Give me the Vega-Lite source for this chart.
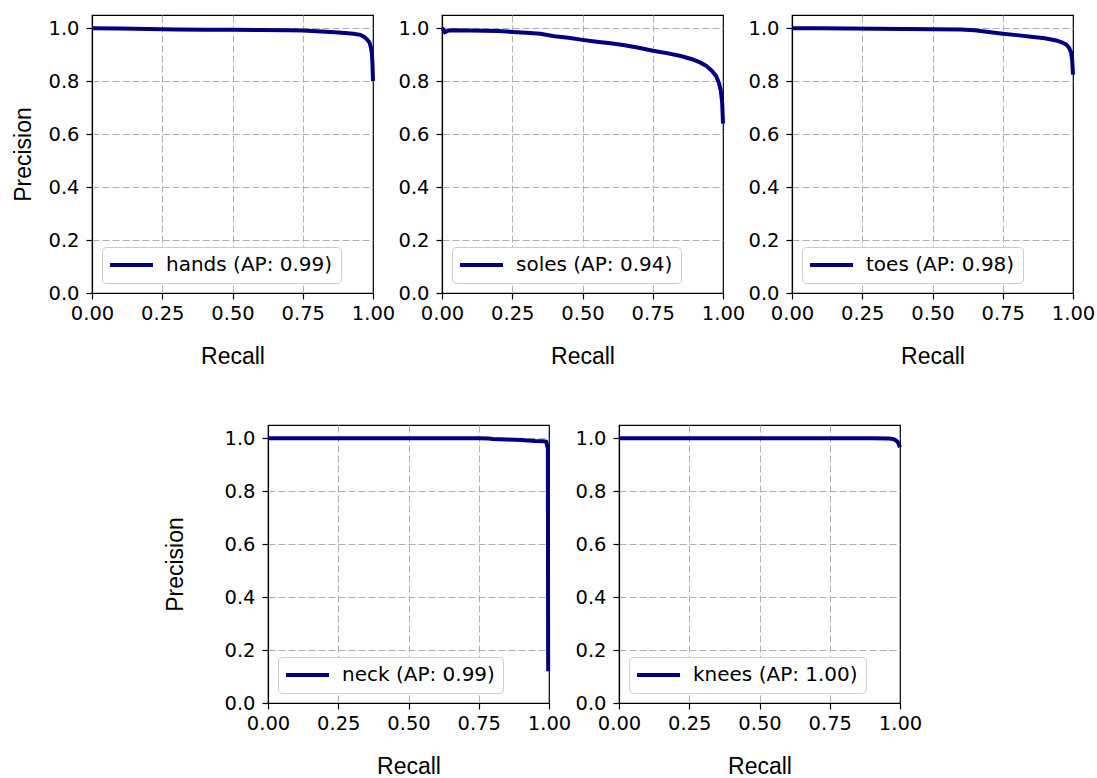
{
  "$schema": "https://vega.github.io/schema/vega-lite/v6.json",
  "background": "white",
  "padding": {"left": 12, "top": 14, "right": 5, "bottom": 5},
  "datasets": {
    "pr": [
      {"part": "hands", "label": "hands (AP: 0.99)", "recall": 0.0, "precision": 1.0},
      {"part": "hands", "label": "hands (AP: 0.99)", "recall": 0.1, "precision": 0.999},
      {"part": "hands", "label": "hands (AP: 0.99)", "recall": 0.2, "precision": 0.997},
      {"part": "hands", "label": "hands (AP: 0.99)", "recall": 0.3, "precision": 0.995},
      {"part": "hands", "label": "hands (AP: 0.99)", "recall": 0.4, "precision": 0.994},
      {"part": "hands", "label": "hands (AP: 0.99)", "recall": 0.5, "precision": 0.994},
      {"part": "hands", "label": "hands (AP: 0.99)", "recall": 0.6, "precision": 0.993},
      {"part": "hands", "label": "hands (AP: 0.99)", "recall": 0.7, "precision": 0.992},
      {"part": "hands", "label": "hands (AP: 0.99)", "recall": 0.75, "precision": 0.991},
      {"part": "hands", "label": "hands (AP: 0.99)", "recall": 0.8, "precision": 0.989},
      {"part": "hands", "label": "hands (AP: 0.99)", "recall": 0.85, "precision": 0.986},
      {"part": "hands", "label": "hands (AP: 0.99)", "recall": 0.9, "precision": 0.982},
      {"part": "hands", "label": "hands (AP: 0.99)", "recall": 0.93, "precision": 0.979},
      {"part": "hands", "label": "hands (AP: 0.99)", "recall": 0.955, "precision": 0.975},
      {"part": "hands", "label": "hands (AP: 0.99)", "recall": 0.97, "precision": 0.966},
      {"part": "hands", "label": "hands (AP: 0.99)", "recall": 0.98, "precision": 0.956},
      {"part": "hands", "label": "hands (AP: 0.99)", "recall": 0.988, "precision": 0.945},
      {"part": "hands", "label": "hands (AP: 0.99)", "recall": 0.993, "precision": 0.925},
      {"part": "hands", "label": "hands (AP: 0.99)", "recall": 0.996, "precision": 0.905},
      {"part": "hands", "label": "hands (AP: 0.99)", "recall": 0.998, "precision": 0.87},
      {"part": "hands", "label": "hands (AP: 0.99)", "recall": 1.0, "precision": 0.8},

      {"part": "soles", "label": "soles (AP: 0.94)", "recall": 0.0, "precision": 1.0},
      {"part": "soles", "label": "soles (AP: 0.94)", "recall": 0.005, "precision": 0.995},
      {"part": "soles", "label": "soles (AP: 0.94)", "recall": 0.01, "precision": 0.985},
      {"part": "soles", "label": "soles (AP: 0.94)", "recall": 0.02, "precision": 0.99},
      {"part": "soles", "label": "soles (AP: 0.94)", "recall": 0.03, "precision": 0.992},
      {"part": "soles", "label": "soles (AP: 0.94)", "recall": 0.1, "precision": 0.991},
      {"part": "soles", "label": "soles (AP: 0.94)", "recall": 0.2, "precision": 0.99},
      {"part": "soles", "label": "soles (AP: 0.94)", "recall": 0.25, "precision": 0.986},
      {"part": "soles", "label": "soles (AP: 0.94)", "recall": 0.3, "precision": 0.983},
      {"part": "soles", "label": "soles (AP: 0.94)", "recall": 0.35, "precision": 0.979},
      {"part": "soles", "label": "soles (AP: 0.94)", "recall": 0.4, "precision": 0.97},
      {"part": "soles", "label": "soles (AP: 0.94)", "recall": 0.45, "precision": 0.964},
      {"part": "soles", "label": "soles (AP: 0.94)", "recall": 0.5, "precision": 0.956},
      {"part": "soles", "label": "soles (AP: 0.94)", "recall": 0.55, "precision": 0.949},
      {"part": "soles", "label": "soles (AP: 0.94)", "recall": 0.6, "precision": 0.943},
      {"part": "soles", "label": "soles (AP: 0.94)", "recall": 0.65, "precision": 0.936},
      {"part": "soles", "label": "soles (AP: 0.94)", "recall": 0.7, "precision": 0.926},
      {"part": "soles", "label": "soles (AP: 0.94)", "recall": 0.75, "precision": 0.915},
      {"part": "soles", "label": "soles (AP: 0.94)", "recall": 0.8, "precision": 0.906},
      {"part": "soles", "label": "soles (AP: 0.94)", "recall": 0.85, "precision": 0.895},
      {"part": "soles", "label": "soles (AP: 0.94)", "recall": 0.89, "precision": 0.883},
      {"part": "soles", "label": "soles (AP: 0.94)", "recall": 0.92, "precision": 0.87},
      {"part": "soles", "label": "soles (AP: 0.94)", "recall": 0.94, "precision": 0.858},
      {"part": "soles", "label": "soles (AP: 0.94)", "recall": 0.96, "precision": 0.84},
      {"part": "soles", "label": "soles (AP: 0.94)", "recall": 0.975, "precision": 0.82},
      {"part": "soles", "label": "soles (AP: 0.94)", "recall": 0.985, "precision": 0.795},
      {"part": "soles", "label": "soles (AP: 0.94)", "recall": 0.992, "precision": 0.765},
      {"part": "soles", "label": "soles (AP: 0.94)", "recall": 0.997, "precision": 0.72},
      {"part": "soles", "label": "soles (AP: 0.94)", "recall": 1.0, "precision": 0.64},

      {"part": "toes", "label": "toes (AP: 0.98)", "recall": 0.0, "precision": 1.0},
      {"part": "toes", "label": "toes (AP: 0.98)", "recall": 0.1, "precision": 1.0},
      {"part": "toes", "label": "toes (AP: 0.98)", "recall": 0.2, "precision": 0.999},
      {"part": "toes", "label": "toes (AP: 0.98)", "recall": 0.3, "precision": 0.998},
      {"part": "toes", "label": "toes (AP: 0.98)", "recall": 0.4, "precision": 0.997},
      {"part": "toes", "label": "toes (AP: 0.98)", "recall": 0.5, "precision": 0.996},
      {"part": "toes", "label": "toes (AP: 0.98)", "recall": 0.6, "precision": 0.995},
      {"part": "toes", "label": "toes (AP: 0.98)", "recall": 0.65, "precision": 0.992},
      {"part": "toes", "label": "toes (AP: 0.98)", "recall": 0.7, "precision": 0.986},
      {"part": "toes", "label": "toes (AP: 0.98)", "recall": 0.75, "precision": 0.979},
      {"part": "toes", "label": "toes (AP: 0.98)", "recall": 0.8, "precision": 0.974},
      {"part": "toes", "label": "toes (AP: 0.98)", "recall": 0.85, "precision": 0.968},
      {"part": "toes", "label": "toes (AP: 0.98)", "recall": 0.9, "precision": 0.962},
      {"part": "toes", "label": "toes (AP: 0.98)", "recall": 0.94, "precision": 0.954},
      {"part": "toes", "label": "toes (AP: 0.98)", "recall": 0.96, "precision": 0.947},
      {"part": "toes", "label": "toes (AP: 0.98)", "recall": 0.975, "precision": 0.939},
      {"part": "toes", "label": "toes (AP: 0.98)", "recall": 0.985, "precision": 0.928},
      {"part": "toes", "label": "toes (AP: 0.98)", "recall": 0.993, "precision": 0.91},
      {"part": "toes", "label": "toes (AP: 0.98)", "recall": 0.997, "precision": 0.88},
      {"part": "toes", "label": "toes (AP: 0.98)", "recall": 1.0, "precision": 0.825},

      {"part": "neck", "label": "neck (AP: 0.99)", "recall": 0.0, "precision": 1.0},
      {"part": "neck", "label": "neck (AP: 0.99)", "recall": 0.5, "precision": 1.0},
      {"part": "neck", "label": "neck (AP: 0.99)", "recall": 0.75, "precision": 1.0},
      {"part": "neck", "label": "neck (AP: 0.99)", "recall": 0.785, "precision": 0.999},
      {"part": "neck", "label": "neck (AP: 0.99)", "recall": 0.8, "precision": 0.997},
      {"part": "neck", "label": "neck (AP: 0.99)", "recall": 0.85, "precision": 0.995},
      {"part": "neck", "label": "neck (AP: 0.99)", "recall": 0.9, "precision": 0.993},
      {"part": "neck", "label": "neck (AP: 0.99)", "recall": 0.95, "precision": 0.99},
      {"part": "neck", "label": "neck (AP: 0.99)", "recall": 0.98, "precision": 0.989},
      {"part": "neck", "label": "neck (AP: 0.99)", "recall": 0.99, "precision": 0.987},
      {"part": "neck", "label": "neck (AP: 0.99)", "recall": 0.993, "precision": 0.975},
      {"part": "neck", "label": "neck (AP: 0.99)", "recall": 0.996, "precision": 0.96},
      {"part": "neck", "label": "neck (AP: 0.99)", "recall": 0.9965, "precision": 0.5},
      {"part": "neck", "label": "neck (AP: 0.99)", "recall": 0.997, "precision": 0.12},

      {"part": "knees", "label": "knees (AP: 1.00)", "recall": 0.0, "precision": 1.0},
      {"part": "knees", "label": "knees (AP: 1.00)", "recall": 0.5, "precision": 1.0},
      {"part": "knees", "label": "knees (AP: 1.00)", "recall": 0.9, "precision": 1.0},
      {"part": "knees", "label": "knees (AP: 1.00)", "recall": 0.96, "precision": 0.999},
      {"part": "knees", "label": "knees (AP: 1.00)", "recall": 0.975, "precision": 0.997},
      {"part": "knees", "label": "knees (AP: 1.00)", "recall": 0.985, "precision": 0.992},
      {"part": "knees", "label": "knees (AP: 1.00)", "recall": 0.993, "precision": 0.984},
      {"part": "knees", "label": "knees (AP: 1.00)", "recall": 1.0, "precision": 0.966}
    ]
  },
  "config": {
    "view": {"stroke": "black", "strokeWidth": 1.2},
    "axis": {
      "labelFont": "DejaVu Sans", "labelFontSize": 19.5, "labelColor": "black",
      "titleFont": "Liberation Sans", "titleFontSize": 23, "titleFontWeight": "normal", "titleColor": "black",
      "domainColor": "black", "domainWidth": 1.2, "tickColor": "black", "tickWidth": 1.2, "tickSize": 6,
      "grid": true, "gridColor": "#b0b0b0", "gridDash": [7, 3], "gridWidth": 1,
      "labelFlush": false, "labelOverlap": false
    },
    "axisX": {"labelPadding": 5, "titlePadding": 23},
    "axisY": {"labelPadding": 7, "titlePadding": 12},
    "legend": {
      "orient": "bottom-left", "offset": 10, "title": null,
      "labelFont": "DejaVu Sans", "labelFontSize": 20, "labelColor": "black", "labelLimit": 400,
      "symbolType": "stroke", "symbolStrokeWidth": 4, "symbolSize": 2025, "symbolOffset": -4, "labelOffset": 11,
      "clipHeight": 20,
      "padding": 8, "strokeColor": "#cccccc", "fillColor": "white", "cornerRadius": 4
    },
    "line": {"strokeWidth": 4}
  },
  "vconcat": [
    {
      "hconcat": [
        {
          "width": 281, "height": 278,
          "data": {"name": "pr"},
          "transform": [{"filter": "datum.part === 'hands'"}],
          "mark": {"type": "line"},
          "encoding": {
            "x": {"field": "recall", "type": "quantitative", "scale": {"domain": [0, 1], "nice": false, "zero": false}, "axis": {"values": [0, 0.25, 0.5, 0.75, 1], "format": ".2f", "title": "Recall", "gridOpacity": {"condition": {"test": "datum.value <= 0 || datum.value >= 1", "value": 0}, "value": 1}}},
            "y": {"field": "precision", "type": "quantitative", "scale": {"domain": [0, 1.05], "nice": false}, "axis": {"values": [0, 0.2, 0.4, 0.6, 0.8, 1], "format": ".1f", "title": "Precision"}},
            "color": {"field": "label", "type": "nominal", "scale": {"range": ["#000080"]}, "legend": {"orient": "bottom-left", "title": null}}
          }
        },
        {
          "width": 281, "height": 278,
          "data": {"name": "pr"},
          "transform": [{"filter": "datum.part === 'soles'"}],
          "mark": {"type": "line"},
          "encoding": {
            "x": {"field": "recall", "type": "quantitative", "scale": {"domain": [0, 1], "nice": false, "zero": false}, "axis": {"values": [0, 0.25, 0.5, 0.75, 1], "format": ".2f", "title": "Recall", "gridOpacity": {"condition": {"test": "datum.value <= 0 || datum.value >= 1", "value": 0}, "value": 1}}},
            "y": {"field": "precision", "type": "quantitative", "scale": {"domain": [0, 1.05], "nice": false}, "axis": {"values": [0, 0.2, 0.4, 0.6, 0.8, 1], "format": ".1f", "title": null}},
            "color": {"field": "label", "type": "nominal", "scale": {"range": ["#000080"]}, "legend": {"orient": "bottom-left", "title": null}}
          }
        },
        {
          "width": 281, "height": 278,
          "data": {"name": "pr"},
          "transform": [{"filter": "datum.part === 'toes'"}],
          "mark": {"type": "line"},
          "encoding": {
            "x": {"field": "recall", "type": "quantitative", "scale": {"domain": [0, 1], "nice": false, "zero": false}, "axis": {"values": [0, 0.25, 0.5, 0.75, 1], "format": ".2f", "title": "Recall", "gridOpacity": {"condition": {"test": "datum.value <= 0 || datum.value >= 1", "value": 0}, "value": 1}}},
            "y": {"field": "precision", "type": "quantitative", "scale": {"domain": [0, 1.05], "nice": false}, "axis": {"values": [0, 0.2, 0.4, 0.6, 0.8, 1], "format": ".1f", "title": null}},
            "color": {"field": "label", "type": "nominal", "scale": {"range": ["#000080"]}, "legend": {"orient": "bottom-left", "title": null}}
          }
        }
      ],
      "spacing": 69,
      "bounds": "flush",
      "resolve": {"scale": {"color": "independent"}, "legend": {"color": "independent"}}
    },
    {
      "hconcat": [
        {
          "width": 106, "height": 278,
          "data": {"values": []},
          "mark": {"type": "point"},
          "view": {"stroke": null}
        },
        {
          "width": 281, "height": 278,
          "data": {"name": "pr"},
          "transform": [{"filter": "datum.part === 'neck'"}],
          "mark": {"type": "line"},
          "encoding": {
            "x": {"field": "recall", "type": "quantitative", "scale": {"domain": [0, 1], "nice": false, "zero": false}, "axis": {"values": [0, 0.25, 0.5, 0.75, 1], "format": ".2f", "title": "Recall", "gridOpacity": {"condition": {"test": "datum.value <= 0 || datum.value >= 1", "value": 0}, "value": 1}}},
            "y": {"field": "precision", "type": "quantitative", "scale": {"domain": [0, 1.05], "nice": false}, "axis": {"values": [0, 0.2, 0.4, 0.6, 0.8, 1], "format": ".1f", "title": "Precision", "titlePadding": 36}},
            "color": {"field": "label", "type": "nominal", "scale": {"range": ["#000080"]}, "legend": {"orient": "bottom-left", "title": null}}
          }
        },
        {
          "width": 281, "height": 278,
          "data": {"name": "pr"},
          "transform": [{"filter": "datum.part === 'knees'"}],
          "mark": {"type": "line"},
          "encoding": {
            "x": {"field": "recall", "type": "quantitative", "scale": {"domain": [0, 1], "nice": false, "zero": false}, "axis": {"values": [0, 0.25, 0.5, 0.75, 1], "format": ".2f", "title": "Recall", "gridOpacity": {"condition": {"test": "datum.value <= 0 || datum.value >= 1", "value": 0}, "value": 1}}},
            "y": {"field": "precision", "type": "quantitative", "scale": {"domain": [0, 1.05], "nice": false}, "axis": {"values": [0, 0.2, 0.4, 0.6, 0.8, 1], "format": ".1f", "title": null}},
            "color": {"field": "label", "type": "nominal", "scale": {"range": ["#000080"]}, "legend": {"orient": "bottom-left", "title": null}}
          }
        }
      ],
      "spacing": 70,
      "bounds": "flush",
      "resolve": {"scale": {"color": "independent"}, "legend": {"color": "independent"}}
    }
  ],
  "spacing": 54,
  "resolve": {"scale": {"color": "independent"}, "legend": {"color": "independent"}}
}
